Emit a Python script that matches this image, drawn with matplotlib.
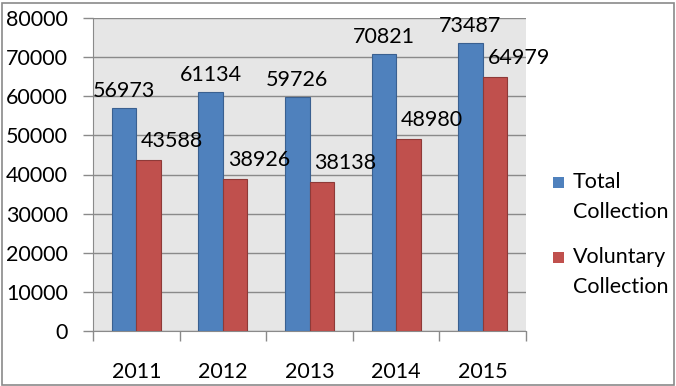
import matplotlib.pyplot as plt
import numpy as np
from matplotlib.patches import Rectangle

years = ['2011', '2012', '2013', '2014', '2015']
total = [56973, 61134, 59726, 70821, 73487]
voluntary = [43588, 38926, 38138, 48980, 64979]
series_names = ['Total Collection', 'Voluntary Collection']
colors = ['#4F81BD', '#C0504D']
edges = ['#3A6090', '#8E3A38']

plt.rcParams['font.family'] = ['Lato', 'DejaVu Sans']
fs = 15.5

fig = plt.figure(figsize=(6.76, 3.86), dpi=100)
ax = fig.add_axes([93 / 676, 55 / 386, 433 / 676, 313 / 386])
ax.set_facecolor('#E6E6E6')

x = np.arange(len(years))
w = 0.283
ax.bar(x - w / 2, total, w, color=colors[0], edgecolor=edges[0], linewidth=0.8, zorder=3)
ax.bar(x + w / 2, voluntary, w, color=colors[1], edgecolor=edges[1], linewidth=0.8, zorder=3)

for xi, v in zip(x, total):
    ax.annotate(str(v), (xi - w / 2, v), xytext=(0, 8), textcoords='offset points',
                ha='center', va='baseline', fontsize=fs, zorder=4)
for xi, v in zip(x, voluntary):
    ax.annotate(str(v), (xi + w / 2, v), xytext=(17, 9.5), textcoords='offset points',
                ha='center', va='baseline', fontsize=fs, zorder=4)

ax.set_xlim(-0.5, len(years) - 0.5)
ax.set_ylim(0, 80000)
ax.set_yticks(range(0, 80001, 10000))
ax.yaxis.grid(True, color='#8A8A8A', linewidth=1, zorder=0)
ax.tick_params(axis='y', labelsize=fs, length=7, width=1, color='#8A8A8A', pad=11)

ax.set_xticks(np.arange(-0.5, len(years), 1))
ax.set_xticklabels([])
ax.set_xticks(x, minor=True)
ax.set_xticklabels(years, minor=True)
ax.tick_params(axis='x', which='major', length=7, width=1, color='#8A8A8A')
ax.tick_params(axis='x', which='minor', length=0, labelsize=fs, pad=22)

for s in ['top', 'right']:
    ax.spines[s].set_visible(False)
for s in ['left', 'bottom']:
    ax.spines[s].set_color('#8A8A8A')

# legend drawn by hand, Excel style (label wraps onto two lines)
entry_base = [188, 263]
for base, name, c in zip(entry_base, series_names, colors):
    fig.add_artist(Rectangle((553 / 676, 1 - base / 386), 11 / 676, 11 / 386,
                             transform=fig.transFigure, facecolor=c, edgecolor='none'))
    for i, line in enumerate(name.split(' ')):
        fig.text(573 / 676, 1 - (base + 30 * i) / 386, line, fontsize=fs,
                 ha='left', va='baseline')

fig.add_artist(Rectangle((1.5 / 676, 1.5 / 386), 672 / 676, 382 / 386, transform=fig.transFigure,
                         fill=False, edgecolor='#8A8A8A', linewidth=1.2))

fig.savefig('out.png', dpi=100)
